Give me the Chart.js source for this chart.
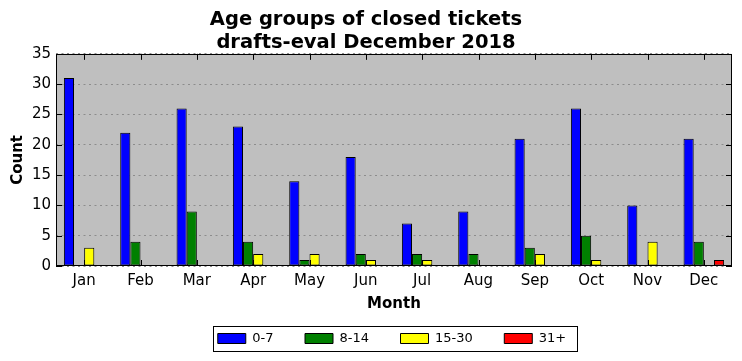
<!DOCTYPE html>
<html>
<head>
<meta charset="utf-8">
<script src="https://cdn.jsdelivr.net/npm/chart.js@4.4.1/dist/chart.umd.min.js"></script>
<style>
  html, body { margin: 0; padding: 0; background: #ffffff; }
  #wrap { width: 742px; height: 361px; position: relative; }
</style>
</head>
<body>
<div id="wrap"><canvas id="c" width="742" height="361"></canvas></div>
<script>
const months = ["Jan","Feb","Mar","Apr","May","Jun","Jul","Aug","Sep","Oct","Nov","Dec"];
const age0to7   = [31, 22, 26, 23, 14, 18, 7, 9, 21, 26, 10, 21];
const age8to14  = [0, 4, 9, 4, 1, 2, 2, 2, 3, 5, 0, 4];
const age15to30 = [3, 0, 0, 2, 2, 1, 1, 0, 2, 1, 4, 0];
const age31plus = [0, 0, 0, 0, 0, 0, 0, 0, 0, 0, 0, 1];
const yTicks = [0, 5, 10, 15, 20, 25, 30, 35];
const titleLines = ["Age groups of closed tickets", "drafts-eval December 2018"];

const FONT = "'DejaVu Sans', sans-serif";

const plotBg = {
  id: 'plotBg',
  afterLayout(chart) {
    // center the legend under the plot area, as in the reference
    const lg = chart.legend;
    if (lg) { lg.left = chart.chartArea.left - 2; lg.right = chart.chartArea.right - 2; }
  },
  beforeDraw(chart) {
    const {ctx, chartArea: a} = chart;
    ctx.save();
    ctx.fillStyle = '#bfbfbf';
    ctx.fillRect(a.left, a.top, a.right - a.left, a.bottom - a.top);
    ctx.restore();
  },
  afterDraw(chart) {
    const {ctx, chartArea: a} = chart;
    ctx.save();
    ctx.strokeStyle = '#000';
    ctx.lineWidth = 1;
    ctx.strokeRect(Math.round(a.left) + 0.5, Math.round(a.top) + 0.5,
                   Math.round(a.right - a.left) - 1, Math.round(a.bottom - a.top) - 1);
    const xs = chart.scales.x, ys = chart.scales.y;
    ctx.beginPath();
    xs.ticks.forEach((t, i) => {
      const px = Math.round(xs.getPixelForTick(i)) + 0.5;
      ctx.moveTo(px, a.top); ctx.lineTo(px, a.top + 6);
      ctx.moveTo(px, a.bottom); ctx.lineTo(px, a.bottom - 6);
    });
    ys.ticks.forEach((t, i) => {
      const py = Math.round(ys.getPixelForTick(i)) + 0.5;
      ctx.moveTo(a.left, py); ctx.lineTo(a.left + 6, py);
      ctx.moveTo(a.right, py); ctx.lineTo(a.right - 6, py);
    });
    ctx.stroke();
    const lg = chart.legend;
    if (lg && lg.legendHitBoxes && lg.legendHitBoxes.length) {
      const hb = lg.legendHitBoxes;
      let l = Infinity, r = -Infinity, t = Infinity, b = -Infinity;
      hb.forEach(h => { l = Math.min(l, h.left); r = Math.max(r, h.left + h.width); t = Math.min(t, h.top); b = Math.max(b, h.top + h.height); });
      ctx.strokeStyle = '#000';
      ctx.strokeRect(Math.round(l - 5) + 0.5, Math.round(t - 6) + 0.5, Math.round(r - l + 16), Math.round(b - t + 12));
    }
    ctx.restore();
  }
};

const mk = (label, data, color) => ({
  label, data,
  backgroundColor: color,
  borderColor: '#000',
  borderWidth: 1,
  borderSkipped: false,
  categoryPercentage: 0.72,
  barPercentage: 1.0
});

new Chart(document.getElementById('c'), {
  type: 'bar',
  data: {
    labels: months,
    datasets: [
      mk('0-7', age0to7, '#0000ff'),
      mk('8-14', age8to14, '#008000'),
      mk('15-30', age15to30, '#ffff00'),
      mk('31+', age31plus, '#ff0000')
    ]
  },
  options: {
    responsive: false,
    animation: false,
    devicePixelRatio: 1,
    layout: { padding: { left: 0, right: 10, top: 9, bottom: 6 } },
    plugins: {
      title: {
        display: true,
        text: titleLines,
        color: '#000',
        font: { family: FONT, size: 19.5, weight: 'bold', lineHeight: 1.15 },
        padding: { top: 0, bottom: 0 }
      },
      legend: {
        display: true,
        position: 'bottom',
        labels: {
          color: '#000',
          font: { family: FONT, size: 13 },
          boxWidth: 28,
          boxHeight: 10,
          padding: 31.5,
          useBorderRadius: false
        }
      },
      tooltip: { enabled: false }
    },
    scales: {
      x: {
        grid: { display: false, drawTicks: false },
        border: { display: false },
        ticks: { color: '#000', font: { family: FONT, size: 15 }, padding: 6 },
        title: { display: true, text: 'Month', color: '#000', font: { family: FONT, size: 15, weight: 'bold' }, padding: { top: 0, bottom: -12.5 } },
        afterFit(s) { s.height = 34.5; }
      },
      y: {
        min: 0, max: 35,
        afterBuildTicks(s) { s.ticks = yTicks.map(v => ({ value: v })); },
        grid: { color: '#8c8c8c', lineWidth: 1, drawTicks: false },
        border: { display: false, dash: [2, 3.5] },
        ticks: { color: '#000', font: { family: FONT, size: 15 }, padding: 5 },
        title: { display: true, text: 'Count', color: '#000', font: { family: FONT, size: 15, weight: 'bold' }, padding: { top: 9, bottom: 0 } },
        afterFit(s) { s.width = 56; }
      }
    }
  },
  plugins: [plotBg]
});
</script>
</body>
</html>
